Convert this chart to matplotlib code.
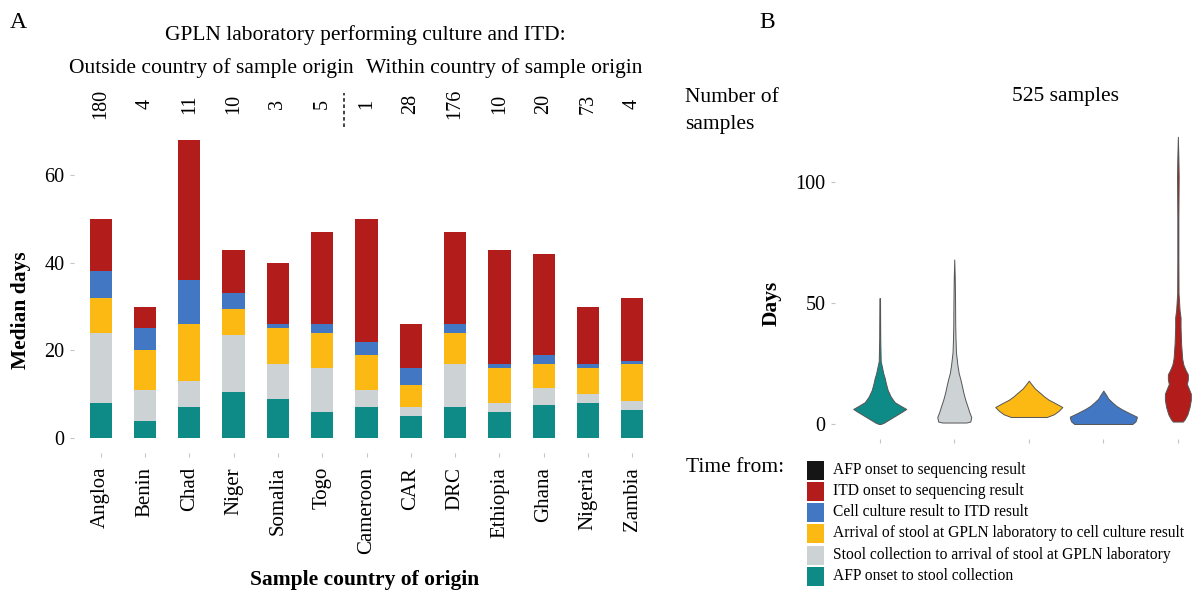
import numpy as np
import matplotlib
matplotlib.use("Agg")
import matplotlib.pyplot as plt
from matplotlib.patches import Rectangle
from matplotlib.transforms import blended_transform_factory

plt.rcParams['font.family'] = ['Liberation Serif', 'DejaVu Serif']

# ---- panel A data ----
countries = ['Angloa', 'Benin', 'Chad', 'Niger', 'Somalia', 'Togo', 'Cameroon',
             'CAR', 'DRC', 'Ethiopia', 'Ghana', 'Nigeria', 'Zambia']
n_samples = [180, 4, 11, 10, 3, 5, 1, 28, 176, 10, 20, 73, 4]
afp_to_stool = [8, 4, 7, 10.5, 9, 6, 7, 5, 7, 6, 7.6, 8, 6.5]
stool_to_arrival = [16, 7, 6, 13, 8, 10, 4, 2, 10, 2, 3.9, 2, 1.9]
arrival_to_culture = [8, 9, 13, 5.9, 8, 8, 8, 5, 7, 8, 5.5, 6, 8.6]
culture_to_itd = [6, 5, 10, 3.6, 1, 2, 3, 4, 2, 1, 2, 1, 0.5]
itd_to_seq = [12, 5, 32, 10, 14, 21, 28, 10, 21, 26, 23, 13, 14.5]

labels = ['AFP onset to sequencing result', 'ITD onset to sequencing result',
          'Cell culture result to ITD result',
          'Arrival of stool at GPLN laboratory to cell culture result',
          'Stool collection to arrival of stool at GPLN laboratory',
          'AFP onset to stool collection']
colors = ['#151515', '#B21D1B', '#4277C4', '#FDB913', '#CDD2D4', '#0E8A87']

# ---- panel B data: violin profiles (days, half-width in category units) ----
v_days = [
    [0, 0.5, 2, 3.5, 5, 6.2, 7.5, 9, 11.3, 14, 17, 19, 21, 23, 26, 35, 52],
    [0.6, 1, 2.8, 5, 7.6, 10, 13.1, 16, 18.6, 21, 24, 29.6, 35, 40.6, 50, 60, 68],
    [2.9, 4, 5.5, 7, 8.5, 10, 11.5, 12.6, 14.7, 16.5, 17.9],
    [0, 1, 2, 3, 4.5, 6.2, 7.5, 8.9, 10.5, 11.7, 13.8],
    [1, 2, 4, 7, 10, 12.5, 14.5, 16.5, 18.5, 20.5, 22.5, 24.5, 27, 33, 40, 44,
     47, 54, 68, 85, 102, 110, 118.7],
]
v_width = [
    [0.013, 0.054, 0.134, 0.215, 0.295, 0.356, 0.282, 0.201, 0.148, 0.107,
     0.081, 0.067, 0.047, 0.034, 0.013, 0.007, 0.004],
    [0.161, 0.215, 0.228, 0.201, 0.174, 0.148, 0.121, 0.101, 0.081, 0.060,
     0.044, 0.023, 0.017, 0.013, 0.011, 0.007, 0],
    [0.242, 0.336, 0.403, 0.450, 0.362, 0.268, 0.201, 0.161, 0.081, 0.034, 0],
    [0.389, 0.430, 0.443, 0.450, 0.349, 0.242, 0.174, 0.121, 0.067, 0.044, 0],
    [0.067, 0.094, 0.128, 0.157, 0.174, 0.174, 0.148, 0.121, 0.134, 0.134,
     0.101, 0.074, 0.058, 0.044, 0.036, 0.036, 0.023, 0.009, 0.007, 0.007,
     0.011, 0.007, 0],
]
v_colors = ['#0E8A87', '#CDD2D4', '#FDB913', '#4277C4', '#B21D1B']

W, H = 1195, 595
fig = plt.figure(figsize=(W / 100, H / 100), dpi=100)

def fx(px):
    return px / W

def fy(py):
    return 1 - py / H

# ---------------- panel A ----------------
ax = fig.add_axes([fx(74), fy(453), fx(659 - 74), 328 / H])
x = np.arange(len(countries))
segs = [afp_to_stool, stool_to_arrival, arrival_to_culture, culture_to_itd, itd_to_seq]
seg_cols = [colors[5], colors[4], colors[3], colors[2], colors[1]]
bottom = np.zeros(len(countries))
for s, c in zip(segs, seg_cols):
    ax.bar(x, s, 0.5, bottom=bottom, color=c, linewidth=0)
    bottom += np.array(s)

ax.set_xlim(-0.6, 12.6)
ax.set_ylim(-3.4, 71.4)
ax.set_yticks([0, 20, 40, 60])
ax.set_xticks(x)
ax.set_xticklabels(countries, rotation=90, fontsize=15)
ax.tick_params(axis='y', labelsize=14.5, length=3, color='#c4c4c4', pad=4)
ax.tick_params(axis='x', length=3, color='#c4c4c4', pad=7)
for sp in ax.spines.values():
    sp.set_visible(False)

tr = blended_transform_factory(ax.transData, ax.transAxes)
for xi, n in zip(x, n_samples):
    ax.text(xi, 1.064, str(n), rotation=90, ha='center', va='center',
            fontsize=14.5, transform=tr, clip_on=False)
ax.plot([5.5, 5.5], [0.995, 1.098], transform=tr, color='#333333', lw=1.3,
        ls=(0, (2, 1.5)), clip_on=False)

fig.text(fx(18), fy(22), 'A', fontsize=17, ha='center', va='center')
fig.text(fx(365), fy(35), 'GPLN laboratory performing culture and ITD:',
         fontsize=15.5, ha='center', va='center')
fig.text(fx(211), fy(68), 'Outside country of sample origin', fontsize=15.5,
         ha='center', va='center')
fig.text(fx(504), fy(68), 'Within country of sample origin', fontsize=15.5,
         ha='center', va='center')
fig.text(fx(21), fy(310), 'Median days', fontsize=15.5, fontweight='bold',
         rotation=90, ha='center', va='center')
fig.text(fx(365), fy(580), 'Sample country of origin', fontsize=15.5,
         fontweight='bold', ha='center', va='center')

# ---------------- panel B ----------------
bx = fig.add_axes([fx(835), fy(438.5), fx(W - 835), 317 / H])
for i, (d, w, c) in enumerate(zip(v_days, v_width, v_colors)):
    d = np.array(d)
    w = np.array(w)
    bx.fill_betweenx(d, i - w, i + w, facecolor=c, edgecolor='#555555', lw=0.7)
bx.set_xlim(-0.6, 4.23)
bx.set_ylim(-6, 125)
bx.set_yticks([0, 50, 100])
bx.set_xticks(range(5))
bx.set_xticklabels([''] * 5)
bx.tick_params(axis='y', labelsize=14.5, length=3, color='#c4c4c4', pad=4)
bx.tick_params(axis='x', length=3, color='#c4c4c4')
for sp in bx.spines.values():
    sp.set_visible(False)

fig.text(fx(767), fy(22), 'B', fontsize=17, ha='center', va='center')
fig.text(fx(772), fy(303), 'Days', fontsize=15.5, fontweight='bold',
         rotation=90, ha='center', va='center')
fig.text(fx(1065), fy(96), '525 samples', fontsize=15.5, ha='center', va='center')
fig.text(fx(685), fy(88), 'Number of\nsamples', fontsize=15.5, ha='left',
         va='top', linespacing=1.55)

# legend
fig.text(fx(686), fy(467), 'Time from:', fontsize=15.5, ha='left', va='center')
row_y = [470, 491, 512, 533, 555, 576]
for lab, c, ry in zip(labels, colors, row_y):
    fig.patches.append(Rectangle((fx(807), fy(ry + 9.5)), fx(17), 19 / H,
                                 transform=fig.transFigure, facecolor=c,
                                 edgecolor='none'))
    fig.text(fx(833), fy(ry), lab, fontsize=11.2, ha='left', va='center')

fig.savefig('out.png', dpi=100)
